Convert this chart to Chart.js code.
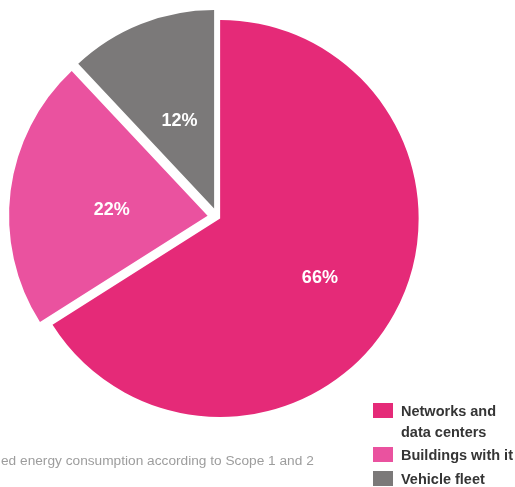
<!DOCTYPE html>
<html>
<head>
<meta charset="utf-8">
<script src="https://cdn.jsdelivr.net/npm/chart.js@4/dist/chart.umd.min.js"></script>
<style>
  html, body { margin: 0; padding: 0; background: #fff; }
  #wrap { position: relative; width: 515px; height: 487px; overflow: hidden; font-family: "Liberation Sans", Arial, sans-serif; }
  canvas { position: absolute; left: 0; top: 0; }
  .caption { position: absolute; left: 1px; top: 453px; font-size: 13.7px; line-height: 16px; color: #9d9d9d; white-space: nowrap; }
  .leg { position: absolute; left: 401px; width: 114px; font-size: 14.5px; font-weight: bold; line-height: 21px; color: #353535; }
  .sw { position: absolute; left: 373px; width: 20px; height: 15px; }
</style>
</head>
<body>
<div id="wrap">
  <canvas id="c" width="515" height="487"></canvas>
  <div class="caption" id="caption"></div>
</div>
<script>
const categories = ['Networks and data centers', 'Buildings with it', 'Vehicle fleet'];
const shares = [66, 22, 12];
const valueLabels = ['66%', '22%', '12%'];
const colors = ['#E52A78', '#EA529F', '#7B7979'];
const captionText = 'ed energy consumption according to Scope 1 and 2';

// presentation settings (not data)
const explodePx = [3, 10, 9.2];
const labelRadiusFrac = [0.585, 0.487, 0.475];
const labelNudge = [[-2, 3.5], [0, 6.5], [0, 0]];
const legendTextTops = [400.5, 444.5, 468.5];
const legendSwatchTops = [403, 447, 471];

document.getElementById('caption').textContent = captionText;
const wrap = document.getElementById('wrap');
categories.forEach((name, i) => {
  const sw = document.createElement('div');
  sw.className = 'sw';
  sw.style.top = legendSwatchTops[i] + 'px';
  sw.style.background = colors[i];
  wrap.appendChild(sw);
  const t = document.createElement('div');
  t.className = 'leg';
  t.style.top = legendTextTops[i] + 'px';
  t.textContent = name;
  wrap.appendChild(t);
});

const explodePlugin = {
  id: 'explode',
  beforeDatasetDraw(chart, args) {
    const ctx = chart.ctx;
    args.meta.data.forEach((arc, i) => {
      const mid = (arc.startAngle + arc.endAngle) / 2;
      const d = explodePx[i] || 0;
      ctx.save();
      ctx.translate(Math.cos(mid) * d, Math.sin(mid) * d);
      arc.draw(ctx);
      ctx.restore();
    });
    return false;
  },
  afterDatasetsDraw(chart) {
    const ctx = chart.ctx;
    const meta = chart.getDatasetMeta(0);
    ctx.save();
    ctx.fillStyle = '#ffffff';
    ctx.font = 'bold 18px "Liberation Sans", Arial, sans-serif';
    ctx.textAlign = 'center';
    ctx.textBaseline = 'middle';
    meta.data.forEach((arc, i) => {
      const mid = (arc.startAngle + arc.endAngle) / 2;
      const r = explodePx[i] + arc.outerRadius * labelRadiusFrac[i];
      ctx.fillText(valueLabels[i],
        arc.x + Math.cos(mid) * r + labelNudge[i][0],
        arc.y + Math.sin(mid) * r + labelNudge[i][1]);
    });
    ctx.restore();
  }
};

new Chart(document.getElementById('c'), {
  type: 'pie',
  data: {
    labels: categories,
    datasets: [{
      data: shares,
      backgroundColor: colors,
      borderWidth: 0,
      offset: 0,
      hoverOffset: 0,
      radius: 198.5
    }]
  },
  options: {
    responsive: false,
    animation: false,
    devicePixelRatio: 1,
    layout: { padding: { left: 0, top: 0, right: 80, bottom: 53 } },
    plugins: { legend: { display: false }, tooltip: { enabled: false } },
    events: []
  },
  plugins: [explodePlugin]
});
</script>
</body>
</html>
